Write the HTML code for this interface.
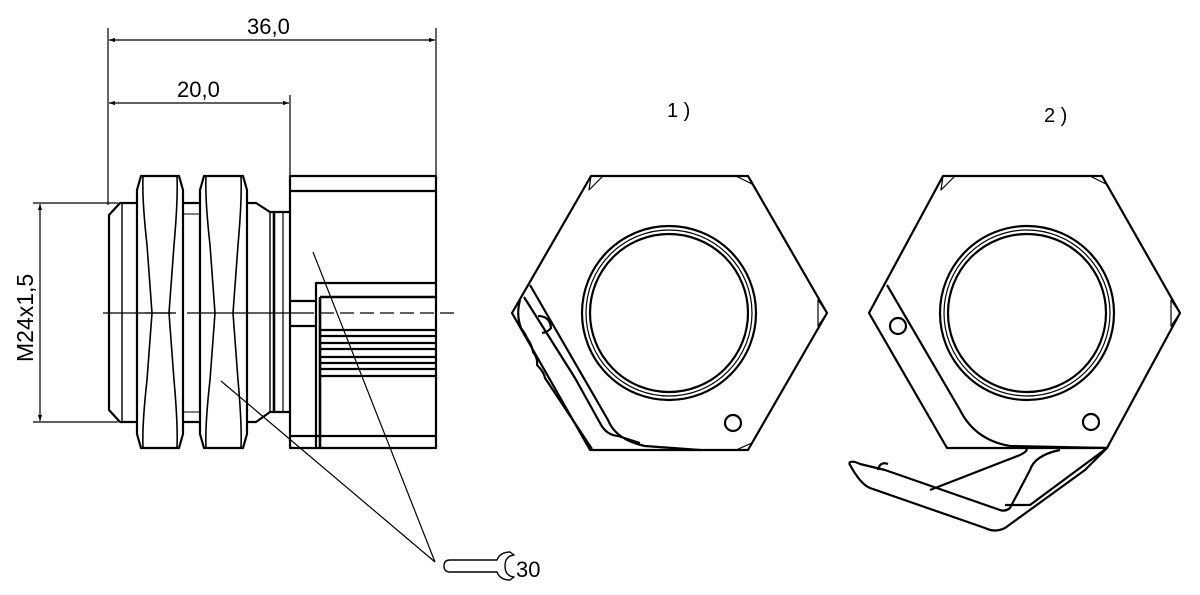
<!DOCTYPE html>
<html><head><meta charset="utf-8"><style>
html,body{margin:0;padding:0;background:#fff;}
svg{display:block;}
text{font-family:"Liberation Sans",sans-serif;fill:#000;}
</style></head><body>
<svg width="1200" height="595" viewBox="0 0 1200 595" xmlns="http://www.w3.org/2000/svg">
<defs>
<marker id="ar" viewBox="0 0 10 10" refX="10" refY="5" markerWidth="10" markerHeight="6" orient="auto-start-reverse" markerUnits="userSpaceOnUse"><path d="M0,1.5 L10,5 L0,8.5 z" fill="#000"/></marker>
</defs>
<g fill="none" stroke="#000" stroke-width="1.2">
<line x1="108" y1="28" x2="108" y2="205"/>
<line x1="436" y1="28" x2="436" y2="176"/>
<line x1="109" y1="40" x2="435" y2="40" marker-start="url(#ar)" marker-end="url(#ar)"/>
<line x1="290" y1="95" x2="290" y2="176"/>
<line x1="109" y1="103" x2="289" y2="103" marker-start="url(#ar)" marker-end="url(#ar)"/>
<line x1="33" y1="203" x2="118" y2="203"/>
<line x1="33" y1="422" x2="118" y2="422"/>
<line x1="40" y1="204" x2="40" y2="421" marker-start="url(#ar)" marker-end="url(#ar)"/>
<line x1="103" y1="313" x2="172" y2="313"/>
<line x1="187" y1="313" x2="300" y2="313"/>
<line x1="300" y1="313" x2="455" y2="313" stroke-dasharray="14,6"/>
<line x1="435" y1="562" x2="313" y2="252"/>
<line x1="435" y1="562" x2="221" y2="381"/>
</g>
<g fill="none" stroke="#000" stroke-width="2.2" stroke-linejoin="round">
<path d="M137,203 L120,203 L109,215 L109,410 L120,422 L137,422"/>
<line x1="122" y1="203" x2="122" y2="422" stroke-width="1.4"/>
<line x1="183" y1="203" x2="200" y2="203"/>
<line x1="183" y1="422" x2="200" y2="422"/>
<line x1="183" y1="214" x2="200" y2="214" stroke-width="1"/>
<line x1="183" y1="412" x2="200" y2="412" stroke-width="1"/>
<path d="M141,176 L179,176 L183,190 L183,434 L179,448 L141,448 L137,434 L137,190 Z"/>
<path d="M143,177 Q142,200 147,245 L152,313 L147,380 Q142,425 143,447" stroke-width="1.6"/>
<path d="M177,177 Q178,200 174,245 L169,313 L174,380 Q178,425 177,447" stroke-width="1.6"/>
<line x1="145" y1="313" x2="176" y2="313" stroke-width="1.2"/>
<path d="M204,176 L243,176 L247,190 L247,434 L243,448 L204,448 L200,434 L200,190 Z"/>
<path d="M206,177 Q205,200 210,245 L215,313 L210,380 Q205,425 206,447" stroke-width="1.6"/>
<path d="M241,177 Q242,200 238,245 L233,313 L238,380 Q242,425 241,447" stroke-width="1.6"/>
<path d="M247,203 L256,203 L270,212 L290,212"/>
<path d="M247,422 L256,422 L270,412 L290,412"/>
<line x1="270" y1="212" x2="270" y2="412" stroke-width="1.4"/>
<line x1="274" y1="212" x2="274" y2="412" stroke-width="2.6"/>
<line x1="283" y1="212" x2="283" y2="412" stroke-width="1.2"/>
<rect x="290" y="176" width="146" height="272"/>
<line x1="290" y1="191" x2="436" y2="191"/>
<path d="M316,448 L316,283 L436,283"/>
<line x1="320" y1="297" x2="436" y2="297" stroke-width="2.6"/>
<line x1="320" y1="297" x2="320" y2="448" stroke-width="2.6"/>
<line x1="290" y1="301" x2="316" y2="301"/>
<line x1="290" y1="326" x2="316" y2="326"/>
<line x1="290" y1="436" x2="436" y2="436"/>
<line x1="320" y1="330" x2="436" y2="330"/>
<line x1="320" y1="336" x2="436" y2="336"/>
<line x1="320" y1="343" x2="436" y2="343"/>
<line x1="320" y1="349" x2="436" y2="349"/>
<line x1="320" y1="357" x2="436" y2="357"/>
<line x1="320" y1="363" x2="436" y2="363"/>
<line x1="320" y1="369" x2="436" y2="369"/>
<line x1="320" y1="376" x2="436" y2="376"/>
<path d="M444,566 Q444,560 450,560 L497,560 Q500,552 510,552 L514,555 Q505,556 505,566 Q505,576 514,577 L510,580 Q500,580 497,572 L450,572 Q444,572 444,566 Z" stroke-width="1.4"/>

<!-- HEX 1 -->
<path d="M591,176 L748,176 L827,313 L748,450 L590,450 L512,313 Z"/>
<path d="M591,176 L603,176 L589,190 Z M748,176 L736,176 L752,184 Z M827,313 L818,300 L818,326 Z M748,450 L736,450 L752,443 Z" stroke-width="1.2"/>
<circle cx="669" cy="313" r="87"/>
<circle cx="669" cy="313" r="83" stroke-width="1.2"/>
<circle cx="669" cy="313" r="79"/>
<circle cx="733" cy="423" r="8"/>
<path d="M530,285 L608,420 Q616,440 645,446 L700,450"/>
<path d="M524,297 L575,378 L600,423 Q606,435 618,436 L640,443"/>
<path d="M520,300 Q516,315 521,328 Q525,333 527,338 Q532,345 533,352 Q538,358 537,365 Q544,372 545,378 L592,449"/>
<path d="M538,316 Q550,316 551,328 Q548,332 542,333"/>
<!-- HEX 2 -->
<path d="M943,176 L1102,176 L1180,313 L1107,448 L947,448 L869,313 Z"/>
<path d="M943,176 L955,176 L941,190 Z M1102,176 L1090,176 L1106,184 Z M1180,313 L1171,300 L1171,326 Z" stroke-width="1.2"/>
<circle cx="1027" cy="313" r="87"/>
<circle cx="1027" cy="313" r="83" stroke-width="1.2"/>
<circle cx="1027" cy="313" r="79"/>
<circle cx="1091" cy="422" r="8"/>
<circle cx="898" cy="326" r="8"/>
<path d="M887,285 L960,410 Q975,440 1010,446 L1107,448"/>
<path d="M849,463 Q852,460 860,464 L885,470 L1000,510 Q1005,512 1010,508 L1030,470 Q1035,455 1060,450 M1005,505 L1030,505 L1107,448 L1085,470 L1005,528 Q995,533 985,528 L870,488 Q860,484 849,463" />
<path d="M930,490 L1020,455 Q1030,450 1025,448"/>
<path d="M878,470 Q880,461 888,464" />
</g>
<g font-size="22">
<text x="247" y="34">36,0</text>
<text x="177" y="97">20,0</text>
<text x="667" y="117" font-size="20">1 )</text>
<text x="1044" y="122" font-size="20">2 )</text>
<text x="516" y="577">30</text>
<text transform="translate(33,362) rotate(-90)" font-size="23">M24x1,5</text>
</g>
</svg>
</body></html>
